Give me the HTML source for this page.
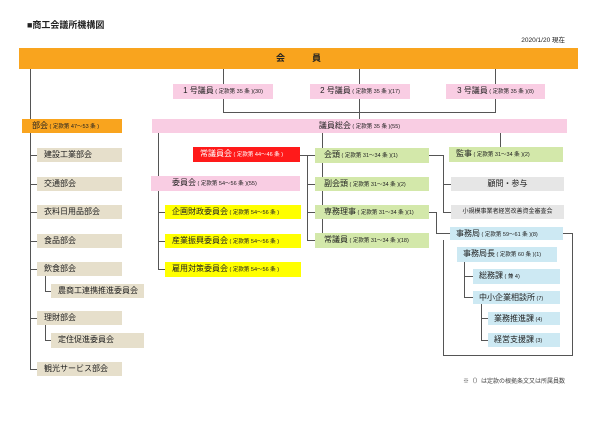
<!DOCTYPE html>
<html><head><meta charset="utf-8"><style>
body{margin:0;width:600px;height:424px;background:#fff;position:relative;overflow:hidden;font-family:"Liberation Sans","Noto Sans CJK JP",sans-serif;color:#222}
.b{position:absolute;box-sizing:border-box;font-size:8px;line-height:14px;white-space:nowrap;padding-left:7px}
.c{text-align:center;padding-left:0}
.s{font-size:5.5px}
.be{background:#e6dfcb}.pk{background:#f9cde3}.gr{background:#d3e8aa}.bl{background:#cde9f3}.gy{background:#e6e6e6}.ye{background:#ffff00}
svg{position:absolute;left:0;top:0}
</style></head><body>
<svg width="600" height="424" stroke="#555" stroke-width="1" fill="none">
<path d="M30.5 69V369.5H37"/>
<path d="M30.5 155.5H37M30.5 184.5H37M30.5 212.5H37M30.5 241.5H37M30.5 269.5H37M30.5 318.5H37"/>
<path d="M45.5 276V291.5H51M45.5 325V340.5H51"/>
<path d="M223.5 69V112.5H495.5V69M359.5 69V119"/>
<path d="M158.5 133V269.5H165M158.5 212.5H165M158.5 241.5H165"/>
<path d="M300 155.5H315M307.5 155.5V240.5H315M307.5 184.5H315M307.5 212.5H315"/>
<path d="M322.5 133V233"/>
<path d="M500.5 133V147"/>
<path d="M429 155.5H443.5V212.5H451M443.5 184.5H451"/>
<path d="M429 212.5H436.5V233.5H450"/>
<path d="M443.5 240V355.5H572.5V233.5H563"/>
<path d="M464.5 262V297.5H473M464.5 276.5H473"/>
<path d="M481.5 304V340.5H488M481.5 318.5H488"/>
</svg>
<div style="position:absolute;left:27px;top:18px;font-size:9px;font-weight:bold">■商工会議所機構図</div>
<div style="position:absolute;right:35px;top:34px;font-size:6.5px">2020/1/20 現在</div>
<div class="b c" style="left:19px;top:48px;width:559px;height:21px;background:#f9a41e;line-height:21px;font-size:9px;font-weight:bold">会　　　員</div>
<div class="b c pk" style="left:173px;top:84px;width:100px;height:15px">1 号議員<span class="s"> ( 定款第 35 条 )(30)</span></div>
<div class="b c pk" style="left:310px;top:84px;width:100px;height:15px">2 号議員<span class="s"> ( 定款第 35 条 )(17)</span></div>
<div class="b c pk" style="left:446px;top:84px;width:99px;height:15px">3 号議員<span class="s"> ( 定款第 35 条 )(8)</span></div>
<div class="b" style="left:22px;top:119px;width:100px;height:14px;background:#f9a41e;padding-left:10px">部会<span class="s"> ( 定款第 47～53 条 )</span></div>
<div class="b c pk" style="left:152px;top:119px;width:415px;height:14px">議員総会<span class="s"> ( 定款第 35 条 )(55)</span></div>
<div class="b be" style="left:37px;top:148px;width:85px;height:14px">建設工業部会</div>
<div class="b be" style="left:37px;top:177px;width:85px;height:14px">交通部会</div>
<div class="b be" style="left:37px;top:205px;width:85px;height:14px">衣料日用品部会</div>
<div class="b be" style="left:37px;top:234px;width:85px;height:14px">食品部会</div>
<div class="b be" style="left:37px;top:262px;width:85px;height:14px">飲食部会</div>
<div class="b be" style="left:51px;top:284px;width:93px;height:14px">農商工連携推進委員会</div>
<div class="b be" style="left:37px;top:311px;width:85px;height:14px">理財部会</div>
<div class="b be" style="left:51px;top:333px;width:93px;height:15px">定住促進委員会</div>
<div class="b be" style="left:37px;top:362px;width:85px;height:14px">観光サービス部会</div>
<div class="b" style="left:193px;top:147px;width:107px;height:15px;background:#ff1a1a;color:#fff;padding-left:7px">常議員会<span class="s"> ( 定款第 44～46 条 )</span></div>
<div class="b pk" style="left:151px;top:176px;width:149px;height:15px;padding-left:21px">委員会<span class="s"> ( 定款第 54～56 条 )(55)</span></div>
<div class="b ye" style="left:165px;top:205px;width:136px;height:14px">企画財政委員会<span class="s"> ( 定款第 54～56 条 )</span></div>
<div class="b ye" style="left:165px;top:234px;width:136px;height:14px">産業振興委員会<span class="s"> ( 定款第 54～56 条 )</span></div>
<div class="b ye" style="left:165px;top:262px;width:136px;height:15px">雇用対策委員会<span class="s"> ( 定款第 54～56 条 )</span></div>
<div class="b gr" style="left:315px;top:148px;width:114px;height:15px;padding-left:9px">会頭<span class="s"> ( 定款第 31～34 条 )(1)</span></div>
<div class="b gr" style="left:315px;top:177px;width:114px;height:14px;padding-left:9px">副会頭<span class="s"> ( 定款第 31～34 条 )(2)</span></div>
<div class="b gr" style="left:315px;top:205px;width:114px;height:14px;padding-left:9px">専務理事<span class="s"> ( 定款第 31～34 条 )(1)</span></div>
<div class="b gr" style="left:315px;top:233px;width:114px;height:15px;padding-left:9px">常議員<span class="s"> ( 定款第 31～34 条 )(18)</span></div>
<div class="b gr" style="left:449px;top:147px;width:114px;height:15px">監事<span class="s"> ( 定款第 31～34 条 )(2)</span></div>
<div class="b c gy" style="left:451px;top:177px;width:113px;height:14px">顧問・参与</div>
<div class="b c gy" style="left:451px;top:205px;width:113px;height:14px;font-size:6px">小規模事業者経営改善資金審査会</div>
<div class="b bl" style="left:450px;top:227px;width:113px;height:13px;line-height:13px;padding-left:6px">事務局<span class="s"> ( 定款第 59～61 条 )(8)</span></div>
<div class="b bl" style="left:457px;top:247px;width:100px;height:15px;padding-left:6px">事務局長<span class="s"> ( 定款第 60 条 )(1)</span></div>
<div class="b bl" style="left:473px;top:269px;width:87px;height:15px;padding-left:6px">総務課<span class="s"> ( 兼 4)</span></div>
<div class="b bl" style="left:473px;top:291px;width:87px;height:13px;line-height:13px;padding-left:6px">中小企業相談所<span class="s"> (7)</span></div>
<div class="b bl" style="left:488px;top:312px;width:72px;height:13px;line-height:13px;padding-left:6px">業務推進課<span class="s"> (4)</span></div>
<div class="b bl" style="left:488px;top:333px;width:72px;height:14px;padding-left:6px">経営支援課<span class="s"> (3)</span></div>
<div style="position:absolute;right:35px;top:376px;font-size:6px;color:#444">※（）は定款の根拠条文又は所属員数</div>
</body></html>
